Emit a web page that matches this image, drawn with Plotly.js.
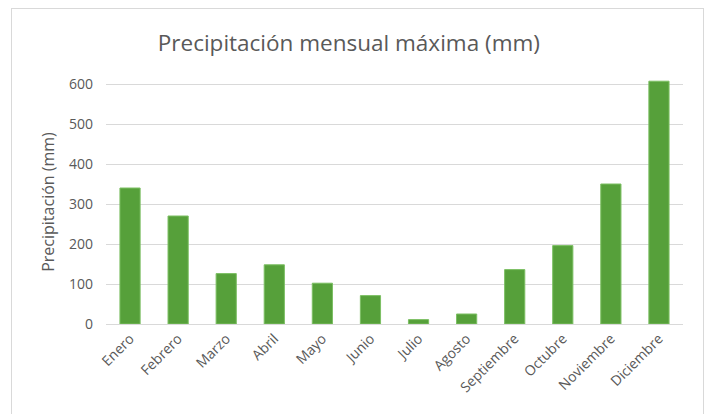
<!DOCTYPE html>
<html>
<head>
<meta charset="utf-8">
<script src="https://cdn.plot.ly/plotly-3.0.1.min.js"></script>
<style>
html,body{margin:0;padding:0;background:#fff;}
#wrap{position:relative;width:712px;height:414px;overflow:hidden;}
#chart{position:absolute;left:0;top:0;width:712px;height:414px;}
#frame{position:absolute;left:11px;top:8px;width:691px;height:420px;border:1px solid #d9d9d9;pointer-events:none;}
</style>
</head>
<body>
<div id="wrap"><div id="chart"></div><div id="frame"></div></div>
<script>
const months = ["Enero","Febrero","Marzo","Abril","Mayo","Junio","Julio","Agosto","Septiembre","Octubre","Noviembre","Diciembre"];
const precipitacion = [340, 270, 126, 148, 102, 71, 11, 25, 136, 196, 350, 607];
const yTicks = [0, 100, 200, 300, 400, 500, 600];

const font = '"Open Sans", "Liberation Sans", sans-serif';
Plotly.newPlot('chart', [{
  type: 'bar',
  x: months,
  y: precipitacion,
  marker: {color: '#56a03a', line: {color: '#7cbf63', width: 1}},
  hoverinfo: 'x+y'
}], {
  width: 712, height: 414,
  margin: {l: 106, r: 29, t: 80, b: 90},
  paper_bgcolor: 'rgba(0,0,0,0)',
  plot_bgcolor: 'rgba(0,0,0,0)',
  bargap: 0.58,
  showlegend: false,
  title: {text: 'Precipitación mensual máxima (mm)', x: 0.49, xanchor: 'center', y: 0.895, yanchor: 'middle',
          font: {family: font, size: 22.5, color: '#595959'}},
  xaxis: {
    type: 'category', tickangle: -45, showgrid: false, zeroline: false,
    showline: true, linecolor: '#d9d9d9', linewidth: 1, ticks: '',
    tickfont: {family: font, size: 14, color: '#595959'}
  },
  yaxis: {
    range: [0, 610], tickvals: yTicks, ticktext: yTicks.map(String),
    showgrid: true, gridcolor: '#d9d9d9', gridwidth: 1, zeroline: false,
    showline: false, ticks: '', ticklabelstandoff: 12,
    tickfont: {family: font, size: 14, color: '#595959'},
    title: {text: 'Precipitación (mm)', standoff: 10, font: {family: font, size: 16, color: '#595959'}}
  }
}, {displayModeBar: false, staticPlot: true});
</script>
</body>
</html>
